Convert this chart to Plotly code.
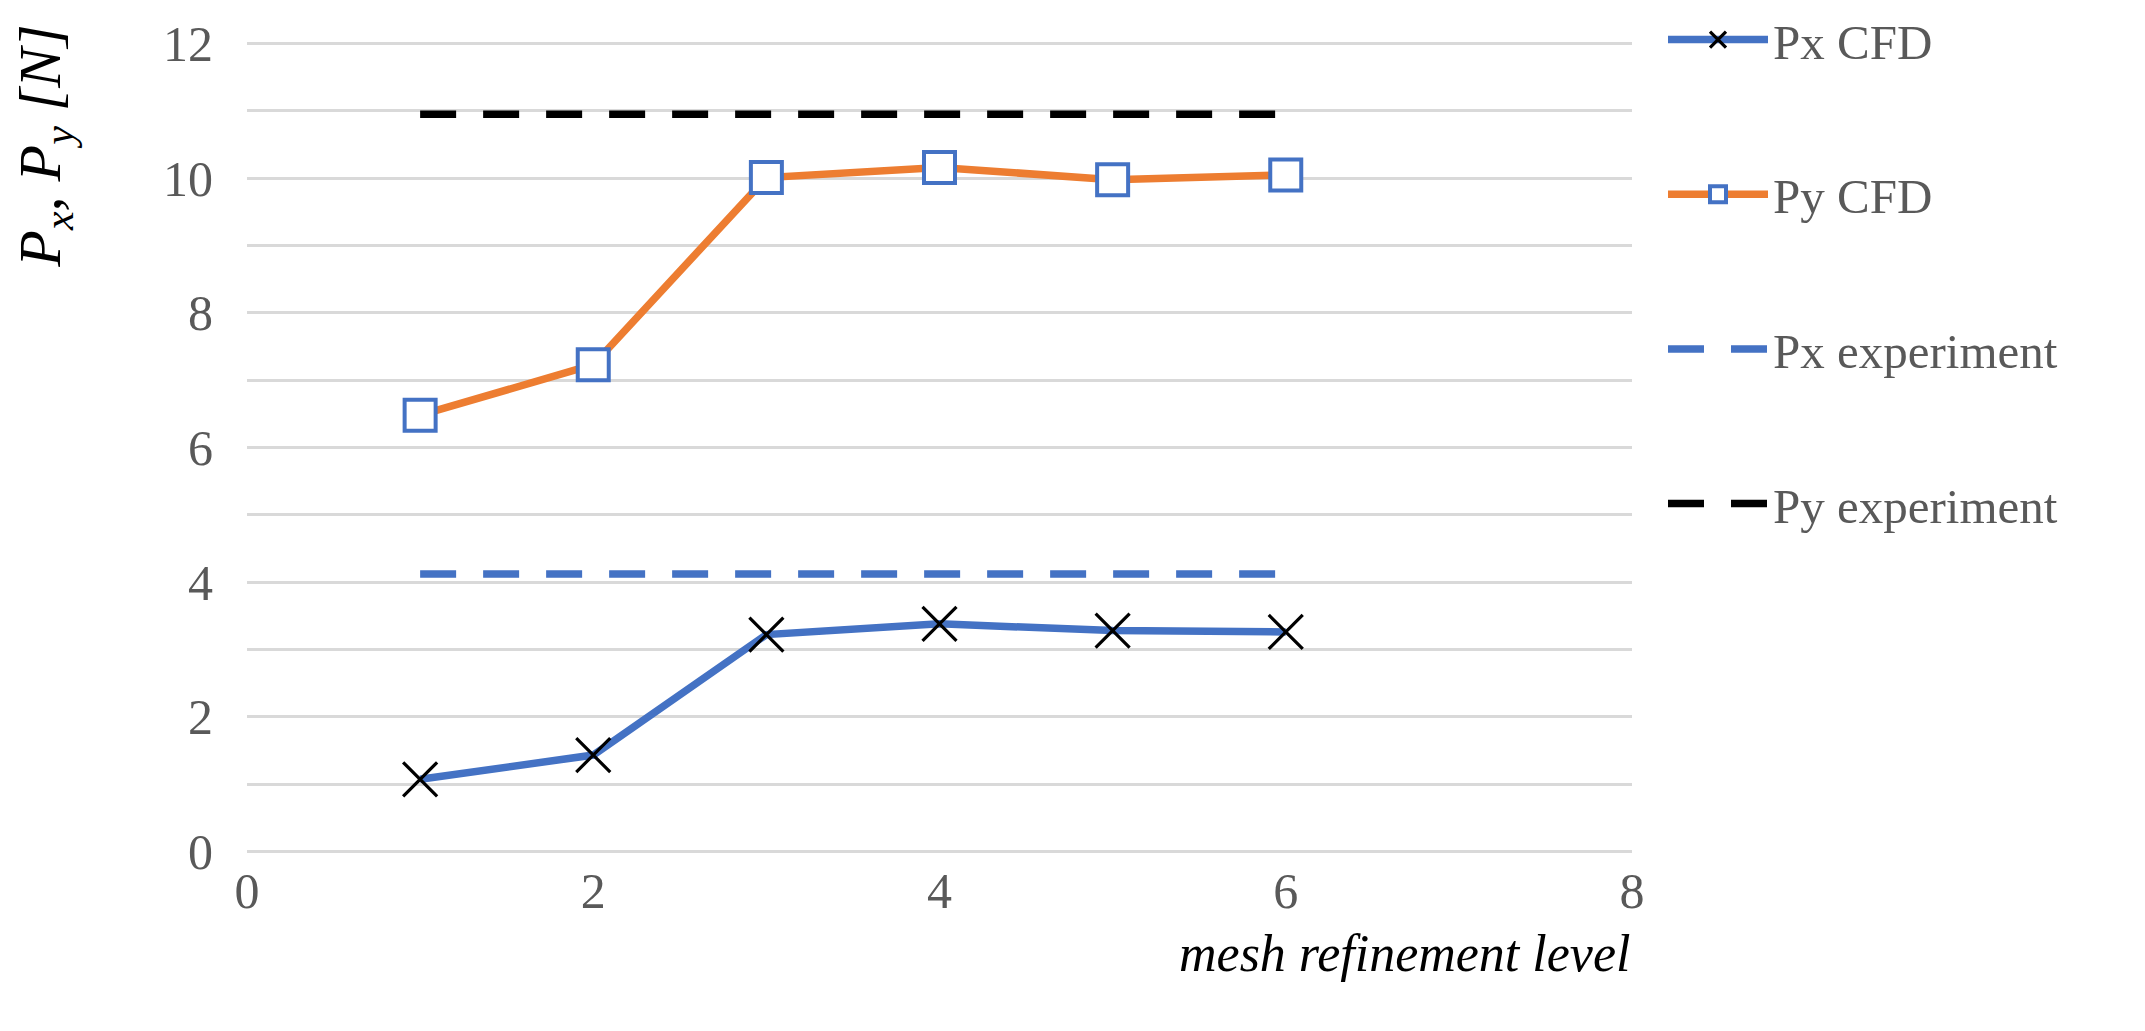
import plotly.graph_objects as go

# ---- data ----
mesh_level = [1, 2, 3, 4, 5, 6]
px_cfd = [1.07, 1.43, 3.22, 3.38, 3.28, 3.26]
py_cfd = [6.48, 7.23, 10.01, 10.16, 9.98, 10.05]
px_exp = [4.12, 4.12, 4.12, 4.12, 4.12, 4.12]
py_exp = [10.95, 10.95, 10.95, 10.95, 10.95, 10.95]
x_ticks = [0, 2, 4, 6, 8]
y_ticks = [0, 2, 4, 6, 8, 10, 12]

BLUE = "#4472C4"
ORANGE = "#ED7D31"
GRID = "#D9D9D9"
TICK = "#595959"
FONT = "Liberation Serif"

W, H = 2145, 1031
PLOT_L, PLOT_R = 239, 1624      # pixel x of x=0 and x=8
PLOT_T, PLOT_B = 33.3, 845.7    # pixel y of top/bottom of y range
L, R, T, B = PLOT_L, W - PLOT_R, PLOT_T, H - PLOT_B


def px_to_paper_x(px):
    return (px - PLOT_L) / (PLOT_R - PLOT_L)


def px_to_paper_y(py):
    return (PLOT_B - py) / (PLOT_B - PLOT_T)


fig = go.Figure()

fig.add_trace(go.Scatter(
    x=mesh_level, y=px_cfd, name="Px CFD", mode="lines+markers", legendgroup="a",
    line=dict(color=BLUE, width=7.5),
    marker=dict(symbol="x-thin", size=34, color="black",
                line=dict(color="black", width=3.2)),
))
fig.add_trace(go.Scatter(
    x=mesh_level, y=py_cfd, name="Py CFD", mode="lines+markers", legendgroup="b",
    line=dict(color=ORANGE, width=7.5),
    marker=dict(symbol="square", size=31, color="white",
                line=dict(color=BLUE, width=4)),
))
fig.add_trace(go.Scatter(
    x=mesh_level, y=px_exp, name="Px experiment", mode="lines", legendgroup="c",
    line=dict(color=BLUE, width=7.5, dash="36px,27px"),
))
fig.add_trace(go.Scatter(
    x=mesh_level, y=py_exp, name="Py experiment", mode="lines", legendgroup="d",
    line=dict(color="black", width=7.5, dash="36px,27px"),
))

fig.update_layout(
    width=W, height=H,
    margin=dict(l=L, r=R, t=T, b=B, autoexpand=False),
    paper_bgcolor="white", plot_bgcolor="white",
    font=dict(family=FONT, color=TICK, size=50),
    showlegend=True,
    legend=dict(
        x=px_to_paper_x(1655), xanchor="left",
        y=px_to_paper_y(-6.5), yanchor="top",
        font=dict(family=FONT, size=49, color=TICK),
        itemwidth=100, tracegroupgap=88, bgcolor="rgba(0,0,0,0)",
        itemsizing="trace", maxheight=1000,
    ),
    xaxis=dict(
        range=[0, 8], tickvals=x_ticks, ticktext=[str(v) for v in x_ticks],
        showgrid=False, zeroline=False, showline=False,
        ticks="", ticklabelstandoff=3,
        tickfont=dict(family=FONT, size=50, color=TICK),
    ),
    yaxis=dict(
        range=[-0.04, 12.04], tickvals=y_ticks, ticktext=[str(v) for v in y_ticks],
        showgrid=True, gridcolor=GRID, gridwidth=3,
        minor=dict(dtick=1, showgrid=True, gridcolor=GRID, gridwidth=3),
        zeroline=False, showline=False,
        ticks="", ticklabelstandoff=33,
        tickfont=dict(family=FONT, size=50, color=TICK),
    ),
    annotations=[
        dict(text="<i>P<sub>x</sub>, P<sub>y</sub> [N]</i>", textangle=-90,
             xref="paper", yref="paper", x=px_to_paper_x(37), y=px_to_paper_y(139),
             xanchor="center", yanchor="middle", showarrow=False,
             font=dict(family=FONT, size=60, color="black")),
        dict(text="<i>mesh refinement level</i>",
             xref="paper", yref="paper", x=1.0, y=px_to_paper_y(945),
             xanchor="right", yanchor="middle", showarrow=False,
             font=dict(family=FONT, size=52, color="black")),
    ],
)

fig.write_html("out.html")
